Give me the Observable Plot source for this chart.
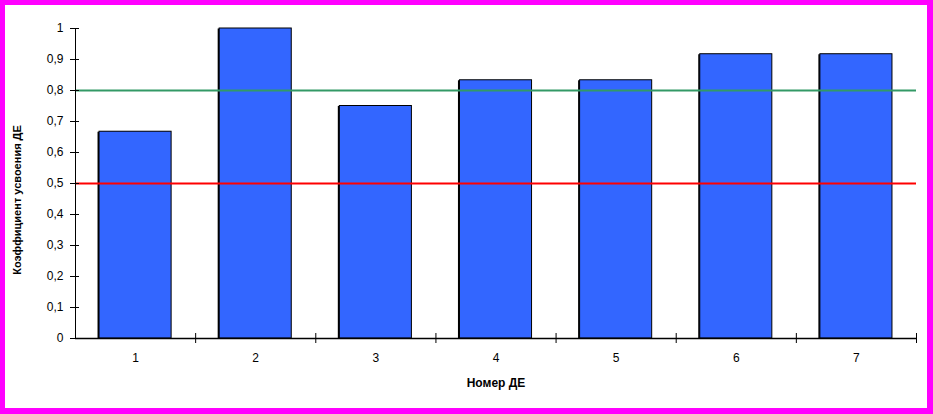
<!DOCTYPE html>
<html>
<head>
<meta charset="utf-8">
<script src="https://cdn.jsdelivr.net/npm/d3@7"></script>
<script src="https://cdn.jsdelivr.net/npm/@observablehq/plot@0.6"></script>
<style>
  html, body { margin: 0; padding: 0; background: #fff; }
  #wrap {
    position: relative; width: 933px; height: 414px; box-sizing: border-box;
    border-style: solid; border-color: #ff00ff; border-width: 5px 6px 6px 5px;
    background: #fff; font-family: Arial, "Liberation Sans", sans-serif;
  }
  #ylab { position: absolute; left: 2px; top: 95px; width: 20px; height: 200px; }
</style>
</head>
<body>
<div id="wrap"><div id="ylab"></div></div>
<script>
const categories = [1, 2, 3, 4, 5, 6, 7];
const values = [0.667, 1.0, 0.75, 0.833, 0.833, 0.917, 0.917];
const yTicks = [0, 0.1, 0.2, 0.3, 0.4, 0.5, 0.6, 0.7, 0.8, 0.9, 1];
const boundaries = [1.5, 2.5, 3.5, 4.5, 5.5, 6.5, 7.5];
const redLevel = [0.5];
const greenLevel = [0.8];
const xTitle = "Номер ДЕ";
const yTitle = "Коэффициент усвоения ДЕ";

const data = categories.map((c, i) => ({n: c, v: values[i]}));
const xDomain = [0.5, 7.5];
const fmt = d => String(d).replace(".", ",");

const chart = Plot.plot({
  width: 922,
  height: 403,
  marginLeft: 70,
  marginRight: 11,
  marginTop: 23,
  marginBottom: 70,
  style: {fontFamily: "Arial, 'Liberation Sans', sans-serif", fontSize: "12px", color: "#000", background: "#fff"},
  x: {type: "linear", domain: xDomain},
  y: {domain: [0, 1]},
  marks: [
    Plot.rectY(data, {x1: d => d.n - 0.3, x2: d => d.n + 0.3, y: "v", fill: "#000", dx: -1.5, dy: 0.5}),
    Plot.rectY(data, {x1: d => d.n - 0.3, x2: d => d.n + 0.3, y: "v", fill: "#3366ff", stroke: "#000", strokeWidth: 1}),
    Plot.ruleY(redLevel, {y: d => d, stroke: "#ff0000", strokeWidth: 2}),
    Plot.ruleY(greenLevel, {y: d => d, stroke: "#339966", strokeWidth: 2}),
    Plot.ruleX([xDomain[0]], {x: d => d, stroke: "#000", strokeWidth: 1}),
    Plot.ruleY([0], {y: d => d, stroke: "#000", strokeWidth: 1.5}),
    Plot.ruleY(yTicks, {y: d => d, x1: xDomain[0], x2: xDomain[0], insetLeft: -5, insetRight: -4, stroke: "#000"}),
    Plot.ruleX(boundaries, {x: d => d, y1: 0, y2: 0, insetTop: -5, insetBottom: -5, stroke: "#000"}),
    Plot.axisY({ticks: yTicks, tickSize: 0, tickPadding: 12, tickFormat: fmt, label: null, fontSize: 12}),
    Plot.axisX({ticks: categories, tickSize: 0, tickPadding: 15, tickFormat: d => String(d), label: null, fontSize: 12}),
    Plot.text([xTitle], {text: d => d, frameAnchor: "bottom", dy: 45, lineAnchor: "middle", fontWeight: "bold", fontSize: 12})
  ]
});
document.getElementById("wrap").appendChild(chart);

document.getElementById("ylab").innerHTML =
  `<svg width="20" height="200" style="display:block"><text transform="translate(14,100) rotate(-90)" text-anchor="middle" font-weight="bold" font-size="11" font-family="Arial, 'Liberation Sans', sans-serif">${yTitle}</text></svg>`;
</script>
</body>
</html>
